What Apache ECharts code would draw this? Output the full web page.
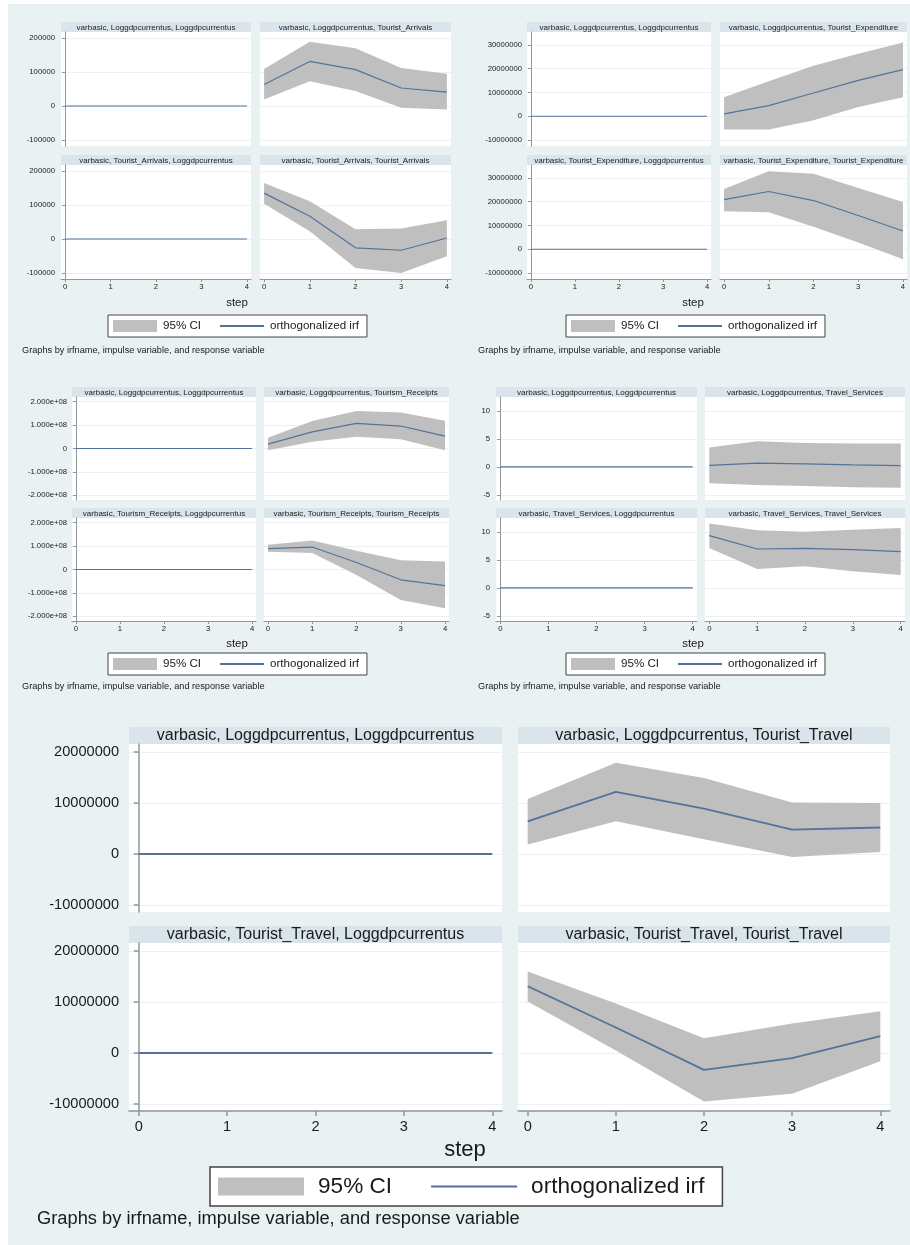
<!DOCTYPE html>
<html>
<head>
<meta charset="utf-8">
<title>varbasic irf</title>
<script src="https://cdn.jsdelivr.net/npm/echarts@6.0.0/dist/echarts.min.js"></script>
<style>
  html, body { margin: 0; padding: 0; background: #fff; }
  #main { width: 910px; height: 1245px; }
</style>
</head>
<body>
<div id="main"></div>
<script>
// steps and tick values
var steps = [0, 1, 2, 3, 4];
var stepTicks = [0, 1, 2, 3, 4];
var zeroResp = [0, 0, 0, 0, 0];   // response of Loggdpcurrentus: flat at zero

// Tourist_Arrivals
var arrivalsFromGdpIrf = [63000, 131000, 107000, 53000, 41000];
var arrivalsFromGdpLo  = [19000, 73000, 44000, -5000, -10000];
var arrivalsFromGdpHi  = [109000, 189000, 170000, 112000, 95000];
var arrivalsOwnIrf = [135000, 67000, -26000, -33000, 3000];
var arrivalsOwnLo  = [104000, 23000, -85000, -100000, -51000];
var arrivalsOwnHi  = [165000, 111000, 29000, 31000, 55000];
var ticksArrivals = [-100000, 0, 100000, 200000];

// Tourist_Expenditure
var expendFromGdpIrf = [1000000, 4500000, 9800000, 15100000, 19600000];
var expendFromGdpLo  = [-5600000, -5600000, -1700000, 3900000, 8000000];
var expendFromGdpHi  = [8000000, 14700000, 21300000, 26300000, 31000000];
var expendOwnIrf = [20900000, 24300000, 20500000, 14200000, 7700000];
var expendOwnLo  = [16000000, 15600000, 9500000, 2800000, -4200000];
var expendOwnHi  = [25400000, 32800000, 31800000, 25800000, 19900000];
var ticksExpend = [-10000000, 0, 10000000, 20000000, 30000000];

// Tourism_Receipts
var receiptsFromGdpIrf = [19000000, 71000000, 107000000, 96000000, 53000000];
var receiptsFromGdpLo  = [-7000000, 29000000, 50000000, 39000000, -7000000];
var receiptsFromGdpHi  = [46000000, 117000000, 160000000, 154000000, 119000000];
var receiptsOwnIrf = [89000000, 96000000, 30000000, -44000000, -69000000];
var receiptsOwnLo  = [76000000, 70000000, -23000000, -130000000, -166000000];
var receiptsOwnHi  = [106000000, 124000000, 80000000, 39000000, 34000000];
var ticksReceipts = [-200000000, -100000000, 0, 100000000, 200000000];

// Travel_Services
var servicesFromGdpIrf = [0.3, 0.7, 0.55, 0.36, 0.24];
var servicesFromGdpLo  = [-2.9, -3.2, -3.4, -3.6, -3.7];
var servicesFromGdpHi  = [3.5, 4.6, 4.3, 4.2, 4.2];
var servicesOwnIrf = [9.35, 6.96, 7.08, 6.85, 6.5];
var servicesOwnLo  = [7.14, 3.4, 3.9, 3.0, 2.3];
var servicesOwnHi  = [11.5, 10.3, 10.06, 10.4, 10.7];
var ticksServices = [-5, 0, 5, 10];

// Tourist_Travel
var travelFromGdpIrf = [6400000, 12200000, 8900000, 4800000, 5200000];
var travelFromGdpLo  = [1850000, 6400000, 2900000, -600000, 400000];
var travelFromGdpHi  = [10800000, 17900000, 14900000, 10100000, 10000000];
var travelOwnIrf = [13100000, 5000000, -3300000, -1000000, 3300000];
var travelOwnLo  = [10100000, 500000, -9500000, -8000000, -1600000];
var travelOwnHi  = [16000000, 9700000, 2900000, 5800000, 8200000];
var ticksTravel = [-10000000, 0, 10000000, 20000000];

var FONT = '"Liberation Sans", Arial, sans-serif';
var BG = '#e9f1f3', HEAD = '#d9e5ea', CI = '#bfbfbf', IRF = '#52739a';
var AXIS = '#8d979c', GRIDLINE = '#edf1f3', INK = '#1a1a1a';
var NOTE = 'Graphs by irfname, impulse variable, and response variable';

function plainFmt(v) { return String(v); }
function expFmt(v) {
  if (v === 0) return '0';
  var m = v.toExponential(3).match(/^(-?[\d.]+)e([+-])(\d+)$/);
  return m[1] + 'e' + m[2] + (m[3].length < 2 ? '0' + m[3] : m[3]);
}

var small = {headFont: 8, tickFont: 7.7, tickLen: 3, xMargin: 4, axisW: 1, lineW: 1.2, xPad: 0.09,
  stepFont: 11.5, noteFont: 9.2,
  leg: {itemWidth: 44, itemHeight: 12, itemGap: 18, padding: [5, 8, 5, 5], fontSize: 11.6, textPad: 1, border: 1}};
var big = {headFont: 16, tickFont: 14.6, tickLen: 5, xMargin: 8, axisW: 1.5, lineW: 1.8, xPad: 0.11,
  stepFont: 22, noteFont: 18.3,
  leg: {itemWidth: 86, itemHeight: 18, itemGap: 38, padding: [8, 18, 8, 8], fontSize: 22.6, textPad: 9, border: 1.5}};

var graphs = [
  {name: 'Tourist_Arrivals', sz: small, ticks: ticksArrivals, fmt: plainFmt, yMin: -117600, yMax: 217600,
   fromGdp: [arrivalsFromGdpLo, arrivalsFromGdpHi, arrivalsFromGdpIrf], own: [arrivalsOwnLo, arrivalsOwnHi, arrivalsOwnIrf],
   cols: [[61, 251], [260, 451]], rows: [[22, 32, 146], [155, 165, 279]], yMargin: 6,
   step: [237, 303], legend: [108, 315], note: [22, 350]},
  {name: 'Tourist_Expenditure', sz: small, ticks: ticksExpend, fmt: plainFmt, yMin: -12530000, yMax: 35470000,
   fromGdp: [expendFromGdpLo, expendFromGdpHi, expendFromGdpIrf], own: [expendOwnLo, expendOwnHi, expendOwnIrf],
   cols: [[527, 711], [720, 907]], rows: [[22, 32, 146], [155, 165, 279]], yMargin: 5,
   step: [693, 303], legend: [566, 315], note: [478, 350]},
  {name: 'Tourism_Receipts', sz: small, ticks: ticksReceipts, fmt: expFmt, yMin: -220000000, yMax: 220000000,
   fromGdp: [receiptsFromGdpLo, receiptsFromGdpHi, receiptsFromGdpIrf], own: [receiptsOwnLo, receiptsOwnHi, receiptsOwnIrf],
   cols: [[72, 256], [264, 449]], rows: [[387, 397, 500], [508, 518, 621]], yMargin: 5,
   step: [237, 644], legend: [108, 653], note: [22, 686]},
  {name: 'Travel_Services', sz: small, ticks: ticksServices, fmt: plainFmt, yMin: -5.9, yMax: 12.5,
   fromGdp: [servicesFromGdpLo, servicesFromGdpHi, servicesFromGdpIrf], own: [servicesOwnLo, servicesOwnHi, servicesOwnIrf],
   cols: [[496, 697], [705, 905]], rows: [[387, 397, 500], [508, 518, 621]], yMargin: 6,
   step: [693, 644], legend: [566, 653], note: [478, 686]},
  {name: 'Tourist_Travel', sz: big, ticks: ticksTravel, fmt: plainFmt, yMin: -11370000, yMax: 21570000,
   fromGdp: [travelFromGdpLo, travelFromGdpHi, travelFromGdpIrf], own: [travelOwnLo, travelOwnHi, travelOwnIrf],
   cols: [[129, 502], [518, 890]], rows: [[727, 744, 912], [926, 943, 1111]], yMargin: 10,
   step: [465, 1150], legend: [210, 1167], note: [37, 1219]}
];

function pts(ys) { return steps.map(function (s, i) { return [s, ys[i]]; }); }

// CI band: one polygon through the library's coordinate system, upper edge then lower edge back
function bandRenderer(lo, hi) {
  return function (params, api) {
    if (params.dataIndex !== 0) return null;
    var upper = steps.map(function (s, i) { return api.coord([s, hi[i]]); });
    var lower = steps.map(function (s, i) { return api.coord([s, lo[i]]); }).reverse();
    return {type: 'polygon', shape: {points: upper.concat(lower)}, style: {fill: CI}, silent: true};
  };
}

var option = {
  backgroundColor: BG,
  animation: false,
  textStyle: {fontFamily: FONT},
  grid: [], xAxis: [], yAxis: [], series: [], legend: [],
  graphic: [
    {type: 'rect', shape: {x: 0, y: 0, width: 910, height: 4}, style: {fill: '#fff'}, silent: true},
    {type: 'rect', shape: {x: 0, y: 0, width: 8, height: 1245}, style: {fill: '#fff'}, silent: true}
  ]
};

graphs.forEach(function (g) {
  var sz = g.sz;
  var panels = [
    {c: 0, r: 0, imp: 'Loggdpcurrentus', rsp: 'Loggdpcurrentus', d: [zeroResp, zeroResp, zeroResp]},
    {c: 1, r: 0, imp: 'Loggdpcurrentus', rsp: g.name, d: g.fromGdp},
    {c: 0, r: 1, imp: g.name, rsp: 'Loggdpcurrentus', d: [zeroResp, zeroResp, zeroResp]},
    {c: 1, r: 1, imp: g.name, rsp: g.name, d: g.own}
  ];
  panels.forEach(function (p) {
    var gi = option.grid.length;
    var x0 = g.cols[p.c][0], x1 = g.cols[p.c][1], row = g.rows[p.r];
    var bottomRow = p.r === 1, leftCol = p.c === 0;

    option.grid.push({left: x0, top: row[1], width: x1 - x0, height: row[2] - row[1],
      show: true, backgroundColor: '#fff', borderWidth: 0, containLabel: false, outerBoundsMode: 'none'});

    option.xAxis.push({
      gridIndex: gi, type: 'value', min: -sz.xPad, max: 4 + sz.xPad,
      axisLine: {show: bottomRow, onZero: false, lineStyle: {color: AXIS, width: sz.axisW}},
      axisTick: {show: bottomRow, customValues: stepTicks, length: sz.tickLen, lineStyle: {color: AXIS, width: sz.axisW}},
      axisLabel: {show: bottomRow, customValues: stepTicks, fontSize: sz.tickFont, margin: sz.xMargin, color: INK, fontFamily: FONT},
      splitLine: {show: false}
    });
    option.yAxis.push({
      gridIndex: gi, type: 'value', min: g.yMin, max: g.yMax,
      axisLine: {show: leftCol, lineStyle: {color: AXIS, width: sz.axisW}},
      axisTick: {show: leftCol, customValues: g.ticks, length: sz.tickLen, lineStyle: {color: AXIS, width: sz.axisW}},
      axisLabel: {show: leftCol, customValues: g.ticks, formatter: g.fmt, fontSize: sz.tickFont, margin: g.yMargin, color: INK, fontFamily: FONT},
      splitLine: {show: true, lineStyle: {color: GRIDLINE, width: 1}}
    });

    var lo = p.d[0], hi = p.d[1], irf = p.d[2];
    option.series.push({
      type: 'custom', name: '95% CI', xAxisIndex: gi, yAxisIndex: gi,
      data: steps.map(function (s, i) { return [s, lo[i], hi[i]]; }),
      encode: {x: 0, y: [1, 2]}, renderItem: bandRenderer(lo, hi),
      itemStyle: {color: CI}, silent: true, z: 1
    });
    option.series.push({
      type: 'line', name: 'orthogonalized irf', xAxisIndex: gi, yAxisIndex: gi, data: pts(irf),
      symbol: 'none', color: IRF, lineStyle: {color: IRF, width: sz.lineW}, silent: true, z: 3
    });

    // panel header
    option.graphic.push({type: 'rect', shape: {x: x0, y: row[0], width: x1 - x0, height: row[1] - row[0]},
      style: {fill: HEAD}, silent: true});
    option.graphic.push({type: 'text', x: (x0 + x1) / 2, y: (row[0] + row[1]) / 2 + 0.5, silent: true,
      style: {text: 'varbasic, ' + p.imp + ', ' + p.rsp, fill: INK, fontSize: sz.headFont, fontFamily: FONT,
        align: 'center', verticalAlign: 'middle', textAlign: 'center', textVerticalAlign: 'middle'}});
  });

  option.graphic.push({type: 'text', x: g.step[0], y: g.step[1], silent: true,
    style: {text: 'step', fill: INK, fontSize: sz.stepFont, fontFamily: FONT,
      align: 'center', verticalAlign: 'middle', textAlign: 'center', textVerticalAlign: 'middle'}});
  option.graphic.push({type: 'text', x: g.note[0], y: g.note[1], silent: true,
    style: {text: NOTE, fill: INK, fontSize: sz.noteFont, fontFamily: FONT,
      align: 'left', verticalAlign: 'middle', textAlign: 'left', textVerticalAlign: 'middle'}});

  var lg = sz.leg;
  option.legend.push({
    left: g.legend[0], top: g.legend[1], orient: 'horizontal', selectedMode: false,
    data: [
      {name: '95% CI', icon: 'rect', itemStyle: {color: CI, borderWidth: 0}},
      {name: 'orthogonalized irf', itemStyle: {opacity: 0}}
    ],
    itemWidth: lg.itemWidth, itemHeight: lg.itemHeight, itemGap: lg.itemGap, padding: lg.padding,
    backgroundColor: '#fff', borderColor: '#444', borderWidth: lg.border, borderRadius: 0,
    textStyle: {fontSize: lg.fontSize, fontFamily: FONT, color: INK, lineHeight: lg.itemHeight,
      padding: [0, 0, 0, lg.textPad]}
  });
});

var chart = echarts.init(document.getElementById('main'), null, {renderer: 'canvas'});
chart.setOption(option);
</script>
</body>
</html>
